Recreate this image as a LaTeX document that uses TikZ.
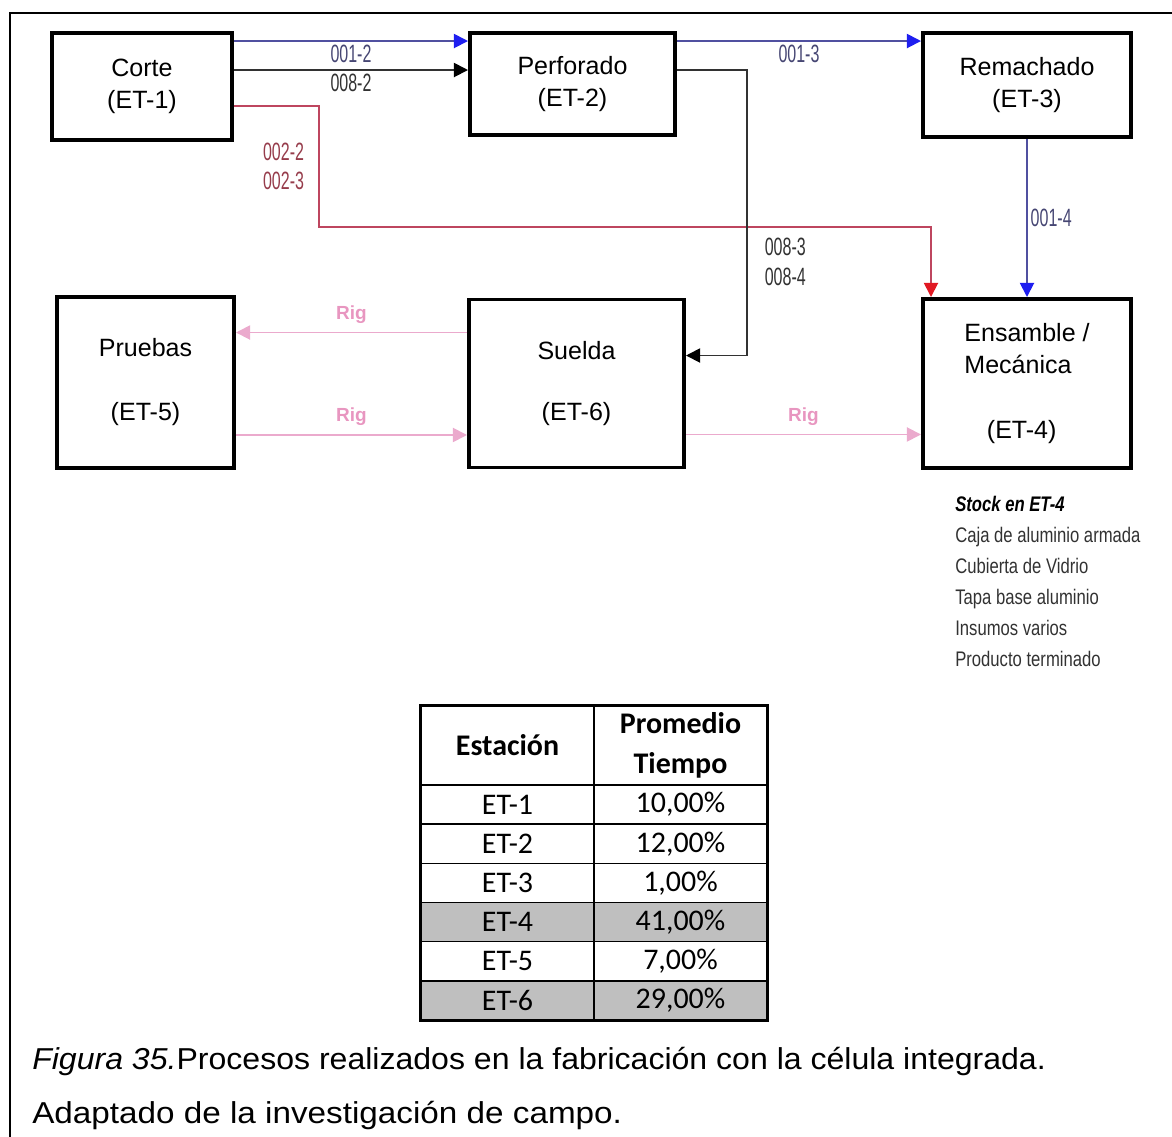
\documentclass[tikz,border=0pt]{standalone}
\usepackage{fontspec}
\setmainfont{Liberation Sans}
\newfontfamily\tablefont{Carlito}
\usetikzlibrary{positioning,arrows.meta,calc}

\definecolor{flowblue}{RGB}{80,80,160}
\definecolor{headblue}{RGB}{30,30,240}
\definecolor{lblblue}{RGB}{70,70,115}
\definecolor{flowred}{RGB}{190,70,95}
\definecolor{headred}{RGB}{225,25,35}
\definecolor{lblred}{RGB}{150,60,75}
\definecolor{flowpink}{RGB}{235,170,205}
\definecolor{lblpink}{RGB}{232,150,192}
\definecolor{flowgray}{RGB}{50,50,50}
\definecolor{rowgray}{RGB}{191,191,191}

\newcommand{\code}[1]{\scalebox{0.64}[1]{#1}}
\newcommand{\narrow}[1]{\scalebox{0.79}[1]{#1}}

\begin{document}
\begin{tikzpicture}[
    x=0.025cm, y=-0.025cm,
    station/.style={rectangle, draw, line width=2.8pt, align=center, inner sep=0pt,
      font=\fontsize{17.8}{22.8}\selectfont},
    flow/.style={line width=1.3pt},
    blueflow/.style={flow, draw=flowblue, -{Triangle[length=10pt, width=10pt, color=headblue]}},
    grayflow/.style={flow, draw=flowgray, -{Triangle[length=10pt, width=10pt, color=black]}},
    redflow/.style={flow, draw=flowred, -{Triangle[length=10pt, width=10pt, color=headred]}},
    pinkflow/.style={flow, draw=flowpink, -{Triangle[length=10pt, width=10pt, color=flowpink]}},
    code/.style={font=\fontsize{17.8}{21}\selectfont, inner sep=2pt, align=center},
    rig/.style={font=\fontsize{13.5}{15}\selectfont\bfseries, text=lblpink, inner sep=2pt},
    cell/.style={rectangle, draw, line width=1pt, minimum width=4.325cm, minimum height=0.98cm,
      inner sep=0pt, align=center, font=\tablefont\fontsize{21.3}{28.4}\selectfont},
    caption/.style={anchor=base west, inner sep=0pt, font=\fontsize{21.5}{26}\selectfont}
  ]
  \useasboundingbox (0,0) rectangle (1172,1137);

  % Frame
  \draw[line width=1pt] (10,1137) -- (10,13) -- (1172,13);

  % Stations
  \node[station, minimum width=4.5cm, minimum height=2.675cm] (corte) at (142,86.5) {Corte\\(ET-1)};
  \node[station, minimum width=5.125cm, minimum height=2.55cm] (perfo) at (572.5,84) {Perforado\\(ET-2)};
  \node[station, minimum width=5.2cm, minimum height=2.6cm] (rema) at (1027,85) {Remachado\\(ET-3)};
  \node[station, minimum width=4.425cm, minimum height=4.275cm] (pruebas) at (145.5,382.5) {Pruebas\\[22.7pt](ET-5)};
  \node[station, minimum width=5.375cm, minimum height=4.2cm] (suelda) at (576.5,383.5) {Suelda\\[21pt](ET-6)};
  \node[station, minimum width=5.2cm, minimum height=4.225cm, align=left] (ensa) at (1027,383.5) {Ensamble /\\Mecánica\\[23pt]\hspace{0.9em}(ET-4)};

  % Connections
  \draw[blueflow] ($(corte.north east)+(0,10)$) coordinate (c1) -- (c1 -| perfo.west)
    node[code, midway, below, text=lblblue] (l012) {\code{001-2}};
  \draw[grayflow] ($(corte.north east)+(0,39)$) coordinate (c2) -- (c2 -| perfo.west)
    node[code, midway, below, text=flowgray] (l082) {\code{008-2}};
  \draw[redflow] ($(corte.north east)+(0,75)$) -- ++(85,0) -- ++(0,121)
    node[code, midway, left=8pt, text=lblred] (l022) {\code{002-2}\\\code{002-3}}
    -| ($(ensa.north west)+(10,0)$);
  \draw[blueflow] ($(perfo.north east)+(0,10)$) coordinate (p1) -- (p1 -| rema.west)
    node[code, midway, below, text=lblblue] (l013) {\code{001-3}};
  \draw[grayflow] ($(perfo.north east)+(0,39)$) -- ++(70,0)
    |- ($(suelda.north east)+(0,58)$)
    node[code, pos=0.336, right=10pt, text=flowgray] (l083) {\code{008-3}\\\code{008-4}};
  \draw[blueflow] (rema.south) -- (rema.south |- ensa.north)
    node[code, midway, right, text=lblblue] (l014) {\code{001-4}};

  % Rig transfers
  \draw[pinkflow] ($(suelda.north west)+(0,35)$) coordinate (s1) -- (s1 -| pruebas.east)
    node[rig, midway, above=4pt] (rig1) {Rig};
  \draw[pinkflow] ($(pruebas.south east)+(0,-35)$) coordinate (s2) -- (s2 -| suelda.west)
    node[rig, midway, above=4pt] (rig2) {Rig};
  \draw[pinkflow] ($(suelda.south east)+(0,-35)$) coordinate (s3) -- (s3 -| ensa.west)
    node[rig, midway, above=4pt] (rig3) {Rig};

  % Stock
  \node[anchor=north west, align=left, inner sep=0pt, text=flowgray,
    font=\fontsize{15}{22}\selectfont] (stock) at (955,496)
    {\narrow{\color{black}\bfseries\itshape Stock en ET-4}\\
     \narrow{Caja de aluminio armada}\\
     \narrow{Cubierta de Vidrio}\\
     \narrow{Tapa base aluminio}\\
     \narrow{Insumos varios}\\
     \narrow{Producto terminado}};

  % Table
  \node[cell, minimum height=1.975cm, font=\tablefont\fontsize{21.3}{28.4}\selectfont\bfseries] (hst) at (507.5,745.5) {Estación};
  \node[cell, minimum height=1.975cm, font=\tablefont\fontsize{21.3}{28.4}\selectfont\bfseries] (hpr) at (680.5,745.5) {Promedio\\Tiempo};
  \foreach \i/\pr/\fc in {1/10/white, 2/12/white, 3/1/white, 4/41/rowgray, 5/7/white, 6/29/rowgray} {
    \node[cell, fill=\fc] (st\i) at (507.5,{785+39.17*(\i-0.5)}) {ET-\i};
    \node[cell, fill=\fc] (pr\i) at (680.5,{785+39.17*(\i-0.5)}) {\pr,00\%};
  }
  \draw[line width=1.6pt] (hst.north west) rectangle (pr6.south east);

  % Caption
  \node[caption] (cap1) at (32,1069)
    {\scalebox{1.06}[1]{\textit{Figura 35.}Procesos realizados en la fabricación con la célula integrada.}};
  \node[caption] (cap2) at (32,1123)
    {\scalebox{1.10}[1]{Adaptado de la investigación de campo.}};
\end{tikzpicture}
\end{document}
